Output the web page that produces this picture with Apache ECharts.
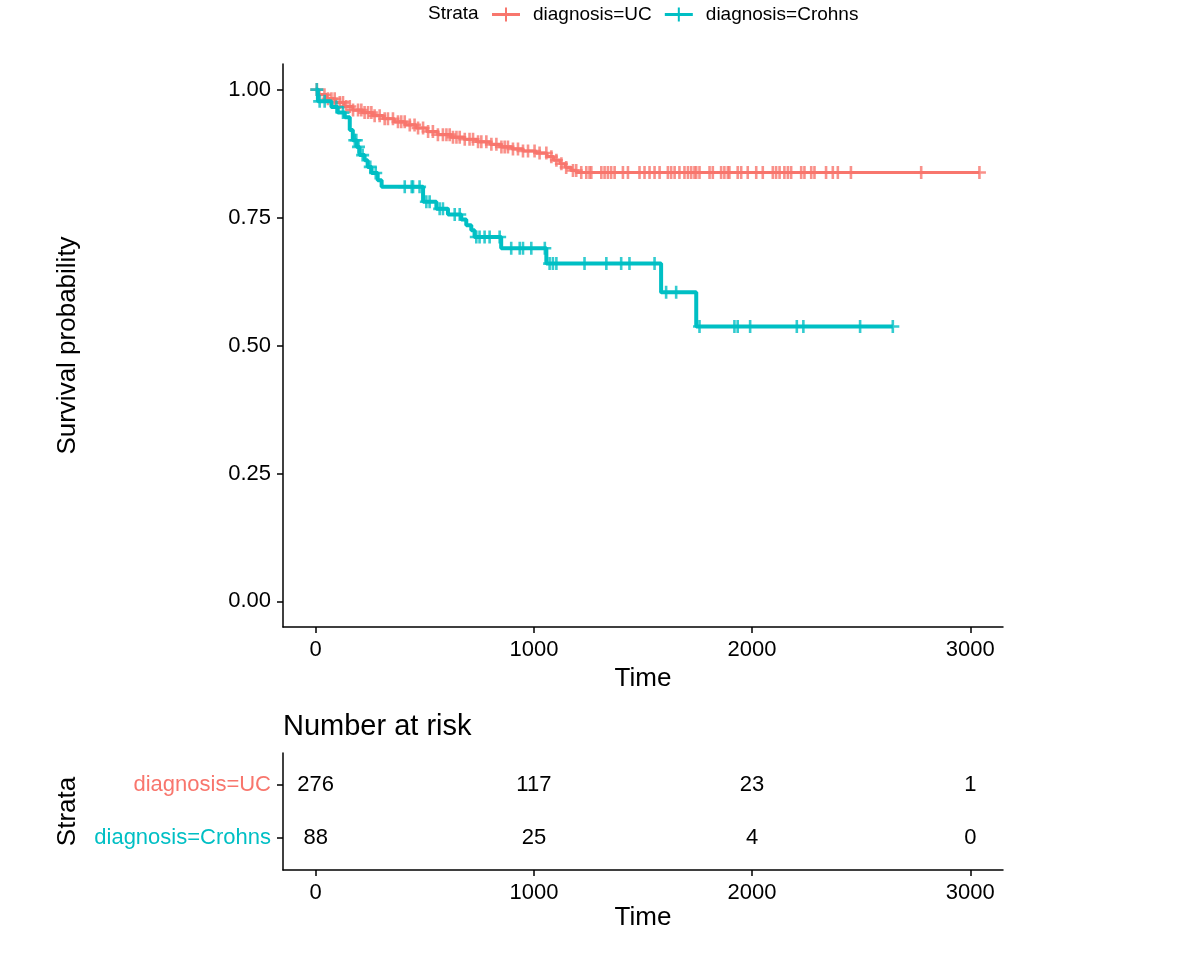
<!DOCTYPE html>
<html>
<head>
<meta charset="utf-8">
<script src="https://cdn.jsdelivr.net/npm/echarts@6/dist/echarts.min.js"></script>
<style>
  html, body { margin: 0; padding: 0; background: #fff; }
  #chart { width: 1200px; height: 954px; }
</style>
</head>
<body>
<div id="chart"></div>
<script>
// Kaplan-Meier steps
var ucTime = [0, 15, 50, 90, 130, 170, 215, 260, 310, 360, 410, 460, 510, 560, 620, 680, 740, 800, 850, 900, 950, 1010, 1060, 1090, 1120, 1145, 1170, 1195];
var ucSurv = [1.0, 0.99, 0.982, 0.975, 0.967, 0.96, 0.955, 0.949, 0.943, 0.937, 0.931, 0.925, 0.918, 0.912, 0.907, 0.903, 0.898, 0.893, 0.888, 0.884, 0.88, 0.876, 0.869, 0.862, 0.855, 0.848, 0.842, 0.838];
var ucCensor = [5, 40, 56, 72, 87, 110, 125, 140, 156, 171, 194, 209, 224, 240, 255, 270, 293, 316, 331, 354, 377, 392, 408, 431, 453, 469, 492, 515, 537, 560, 583, 599, 614, 629, 645, 660, 683, 705, 721, 744, 759, 782, 805, 828, 851, 866, 881, 904, 927, 950, 973, 1003, 1026, 1057, 1080, 1103, 1126, 1148, 1179, 1194, 1217, 1240, 1255, 1263, 1309, 1324, 1339, 1354, 1370, 1408, 1431, 1484, 1507, 1530, 1553, 1576, 1614, 1629, 1645, 1667, 1690, 1706, 1721, 1736, 1744, 1759, 1805, 1820, 1858, 1873, 1889, 1896, 1934, 1950, 1980, 2019, 2049, 2095, 2110, 2126, 2148, 2164, 2179, 2225, 2240, 2271, 2286, 2339, 2370, 2393, 2453, 2775, 3042];

var crTime = [0, 10, 72, 101, 133, 156, 170, 188, 201, 224, 238, 256, 284, 302, 492, 553, 606, 667, 690, 713, 728, 850, 1057, 1583, 1744];
var crSurv = [1.0, 0.977, 0.966, 0.955, 0.946, 0.921, 0.901, 0.888, 0.872, 0.862, 0.849, 0.837, 0.823, 0.81, 0.781, 0.767, 0.756, 0.746, 0.735, 0.725, 0.712, 0.69, 0.66, 0.604, 0.537];
var crCensor = [5, 18, 41, 95, 125, 179, 186, 196, 215, 250, 275, 408, 440, 446, 476, 507, 522, 568, 583, 637, 660, 736, 751, 774, 797, 843, 896, 935, 950, 988, 1050, 1072, 1087, 1103, 1232, 1332, 1400, 1438, 1553, 1606, 1652, 1759, 1919, 1934, 1991, 2205, 2235, 2495, 2645];

// number at risk table
var riskTimes = [0, 1000, 2000, 3000];
var riskUC = [276, 117, 23, 1];
var riskCrohns = [88, 25, 4, 0];
var strataNames = ['diagnosis=UC', 'diagnosis=Crohns'];

var xTicks = [0, 1000, 2000, 3000];
var yTicks = [0, 0.25, 0.5, 0.75, 1];

var RED = '#F8766D', TEAL = '#00BFC4';
var FONT = 'Liberation Sans, Arial, sans-serif';
var cross = 'path://M5.2,0H7.8V5.2H13V7.8H7.8V13H5.2V7.8H0V5.2H5.2Z';
var legendIcon = 'path://M0,5.5H13V0H15V5.5H28V8.5H15V14H13V8.5H0Z';

function stepLine(times, surv, lastT) {
  var out = [];
  for (var i = 0; i < times.length; i++) out.push([times[i], surv[i]]);
  out.push([lastT, surv[surv.length - 1]]);
  return out;
}
function survAt(times, surv, t) {
  var s = surv[0];
  for (var i = 0; i < times.length; i++) { if (times[i] <= t) s = surv[i]; }
  return s;
}
function censorPts(times, surv, cens) {
  return cens.map(function (t) { return [t, survAt(times, surv, t)]; });
}

var riskData = [];
riskTimes.forEach(function (t, i) {
  riskData.push([t, 1, riskUC[i]]);
  riskData.push([t, 2, riskCrohns[i]]);
});

var chart = echarts.init(document.getElementById('chart'));

function xAxisCfg(gridIndex, gap) {
  return {
    type: 'value', gridIndex: gridIndex, min: -150, max: 3150,
    name: 'Time', nameLocation: 'middle', nameGap: gap,
    nameTextStyle: { fontSize: 26, color: '#000', fontFamily: FONT },
    axisLine: { onZero: false, lineStyle: { color: '#000', width: 1.5 } },
    axisTick: { customValues: xTicks, length: 6, lineStyle: { color: '#000', width: 1.5 } },
    axisLabel: {
      customValues: xTicks, fontSize: 22, color: '#000', margin: 12, fontFamily: FONT,
      formatter: function (v) { return String(v); }
    },
    splitLine: { show: false }
  };
}

var option = {
  animation: false,
  backgroundColor: '#fff',
  textStyle: { fontFamily: FONT },
  title: {
    text: 'Number at risk', left: 278, top: 707,
    textStyle: { fontSize: 29, fontWeight: 'normal', color: '#000', fontFamily: FONT }
  },
  graphic: [{
    type: 'text', left: 428, top: 4,
    style: { text: 'Strata', font: '19px ' + FONT, fill: '#000' }
  }],
  legend: {
    data: strataNames, left: 487, top: 0,
    itemWidth: 28, itemHeight: 14, itemGap: 13,
    icon: legendIcon,
    textStyle: { fontSize: 19, color: '#000', fontFamily: FONT, padding: [0, 0, 0, 8] }
  },
  grid: [
    { left: 283, top: 64, width: 720, height: 563 },
    { left: 283, top: 753, width: 720, height: 117 }
  ],
  xAxis: [xAxisCfg(0, 34), xAxisCfg(1, 34)],
  yAxis: [{
    type: 'value', gridIndex: 0, min: -0.05, max: 1.05,
    name: 'Survival probability', nameLocation: 'middle', nameRotate: 90, nameGap: 202,
    nameTextStyle: { fontSize: 26, color: '#000', fontFamily: FONT },
    axisLine: { show: true, onZero: false, lineStyle: { color: '#000', width: 1.5 } },
    axisTick: { show: true, customValues: yTicks, length: 6, lineStyle: { color: '#000', width: 1.5 } },
    axisLabel: {
      customValues: yTicks, fontSize: 22, color: '#000', margin: 12, fontFamily: FONT,
      formatter: function (v) { return v.toFixed(2); }
    },
    splitLine: { show: false }
  }, {
    type: 'value', gridIndex: 1, min: 0.4, max: 2.6, inverse: true,
    name: 'Strata', nameLocation: 'middle', nameRotate: 90, nameGap: 202,
    nameTextStyle: { fontSize: 26, color: '#000', fontFamily: FONT },
    axisLine: { show: true, onZero: false, lineStyle: { color: '#000', width: 1.5 } },
    axisTick: { show: true, customValues: [1, 2], length: 6, lineStyle: { color: '#000', width: 1.5 } },
    axisLabel: {
      customValues: [1, 2], margin: 12,
      formatter: function (v) { return v === 1 ? '{uc|' + strataNames[0] + '}' : '{cr|' + strataNames[1] + '}'; },
      rich: {
        uc: { color: RED, fontSize: 22, fontFamily: FONT },
        cr: { color: TEAL, fontSize: 22, fontFamily: FONT }
      }
    },
    splitLine: { show: false }
  }],
  series: [
    {
      name: strataNames[0], type: 'line', step: 'end', xAxisIndex: 0, yAxisIndex: 0,
      data: stepLine(ucTime, ucSurv, ucCensor[ucCensor.length - 1]),
      showSymbol: false, color: RED, lineStyle: { color: RED, width: 3.2 }, z: 2
    },
    {
      name: 'UC censored', type: 'scatter', xAxisIndex: 0, yAxisIndex: 0,
      data: censorPts(ucTime, ucSurv, ucCensor),
      symbol: cross, symbolSize: 13, itemStyle: { color: RED }, z: 3
    },
    {
      name: strataNames[1], type: 'line', step: 'end', xAxisIndex: 0, yAxisIndex: 0,
      data: stepLine(crTime, crSurv, crCensor[crCensor.length - 1]),
      showSymbol: false, color: TEAL, lineStyle: { color: TEAL, width: 4 }, z: 4
    },
    {
      name: 'Crohns censored', type: 'scatter', xAxisIndex: 0, yAxisIndex: 0,
      data: censorPts(crTime, crSurv, crCensor),
      symbol: cross, symbolSize: 13, itemStyle: { color: TEAL }, z: 5
    },
    {
      name: 'risk', type: 'scatter', xAxisIndex: 1, yAxisIndex: 1,
      data: riskData, symbol: 'circle', symbolSize: 1, itemStyle: { color: '#fff' },
      label: {
        show: true, position: 'inside', fontSize: 22, color: '#000', fontFamily: FONT,
        opacity: 1, textBorderWidth: 0,
        formatter: function (p) { return String(p.value[2]); }
      }
    }
  ]
};

chart.setOption(option);
</script>
</body>
</html>
